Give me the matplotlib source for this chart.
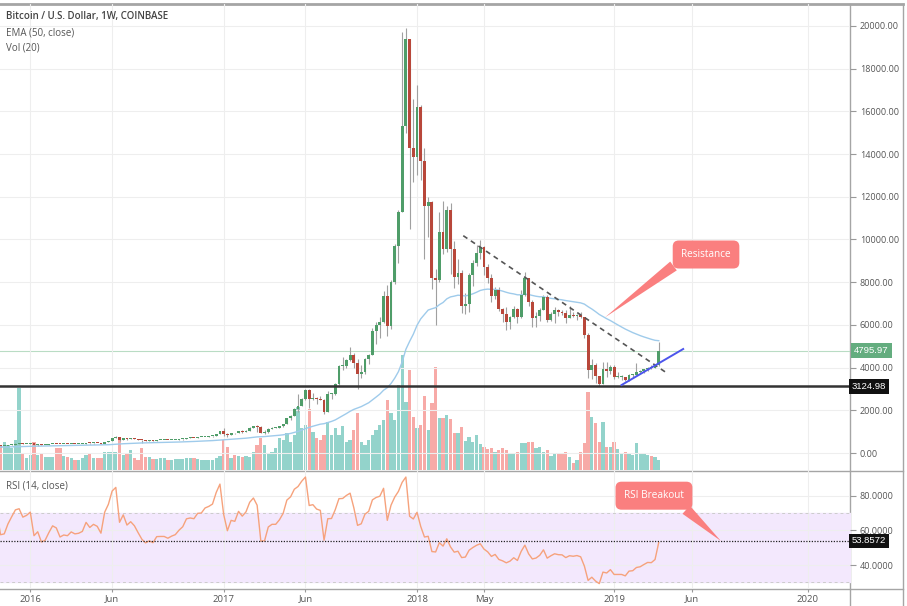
import numpy as np
import pandas as pd
import matplotlib
matplotlib.use("Agg")
import matplotlib.pyplot as plt
import matplotlib.dates as mdates
from matplotlib.lines import Line2D

plt.rcParams['font.family'] = ['Open Sans', 'DejaVu Sans']

W, H = 907, 606

# weekly BTC/USD candles (Coinbase), first bar = week of 2014-12-01
# (bars before Nov 2015 are off screen, they only feed the EMA / RSI)
first_week = "2014-12-01"
first_open = 370

close = [
    # 2014-12 .. 2015
    375, 350, 330, 317, 265, 275, 210, 253, 226, 223, 234, 235, 260, 275, 285, 268,
    242, 260, 236, 222, 219, 240, 240, 237, 240, 230,
    225, 233, 245, 250, 271, 311, 274, 292, 281, 265, 257, 228, 229, 240, 230, 231,
    233, 239, 247, 263, 285, 325, 372, 320, 323, 362, 396, 435, 442, 422, 431,
    # 2016
    448, 385, 402, 369, 376, 407, 438, 432, 405, 413, 411, 425, 420, 422, 428, 460, 449,
    460, 456, 442, 526, 575, 705, 760, 630, 700, 650, 680, 660, 625, 590, 570, 582, 573,
    608, 609, 609, 602, 612, 619, 640, 657, 700, 705, 703, 733, 735, 765, 775, 790, 890, 1015,
    # 2017
    905, 825, 920, 915, 1025, 1000, 1050, 1190, 1270, 1230, 960, 965, 1140, 1180, 1180,
    1245, 1350, 1650, 1750, 2050, 2190, 2550, 2960, 2550, 2590, 2520, 2500, 1930, 2750,
    2760, 3230, 4070, 4090, 4370, 4600, 4230, 3690, 3780, 4400, 4610, 5700, 5990, 6150,
    7370, 5950, 8000, 9700, 11300, 15300, 19400, 14300, 13850,
    # 2018
    16200, 13700, 11550, 11750, 8200, 8100, 10350, 9550, 11400, 9550, 8250, 8450, 6900,
    7000, 8350, 8900, 9350, 9650, 8700, 8200, 7350, 7650, 6750, 6500, 6150, 6350, 6750,
    6350, 7400, 8200, 7050, 6300, 6400, 6700, 7300, 6250, 6500, 6700, 6600, 6580, 6300,
    6450, 6400, 6450, 6350, 5550, 3900, 4100, 3600, 3250, 3950, 3850, 4050,
    # 2019
    3550, 3550, 3550, 3420, 3640, 3660, 3800, 3830, 3920, 4000, 3990, 4100, 4796,
]

high = [
    382, 378, 352, 335, 320, 290, 285, 260, 260, 240, 240, 246, 265, 300, 297, 290,
    270, 262, 262, 240, 230, 245, 246, 245, 245, 242,
    232, 236, 252, 251, 272, 313, 315, 300, 297, 285, 270, 262, 235, 242, 245, 235,
    236, 241, 248, 265, 290, 335, 500, 385, 340, 370, 400, 465, 470, 460, 437,
    460, 450, 425, 410, 385, 410, 445, 442, 440, 420, 418, 426, 428, 425, 432, 465, 468,
    465, 462, 458, 530, 585, 720, 780, 770, 705, 705, 690, 685, 665, 630, 600, 590, 590,
    612, 630, 612, 612, 614, 622, 642, 660, 720, 745, 720, 750, 745, 770, 780, 795, 900, 1020,
    1150, 920, 930, 925, 1030, 1070, 1060, 1195, 1280, 1330, 1260, 1080, 1150, 1200, 1210,
    1250, 1360, 1660, 1780, 2100, 2760, 2560, 2980, 2980, 2790, 2600, 2650, 2550, 2900,
    2800, 3280, 4100, 4480, 4380, 4980, 4700, 4380, 4100, 4450, 4630, 5850, 6150, 6350,
    7600, 7880, 8100, 9800, 11400, 19700, 19900, 19400, 16600,
    17250, 16300, 14300, 12000, 11800, 8600, 11300, 11800, 11550, 11700, 9950, 9100, 8550,
    7500, 8450, 9030, 9750, 9990, 9700, 8850, 8400, 7780, 7760, 6800, 6850, 6400, 6900,
    6800, 7650, 8500, 8200, 7150, 6600, 6800, 7400, 7410, 6600, 6840, 6750, 6700, 6680,
    6900, 6600, 6500, 6620, 6380, 5600, 4400, 4200, 3630, 4250, 4250, 4100,
    4130, 3800, 3650, 3580, 3700, 3700, 4200, 3880, 3950, 4040, 4110, 4150, 5200,
]

low = [
    360, 345, 310, 310, 262, 255, 170, 205, 220, 210, 218, 228, 232, 255, 270, 260,
    240, 235, 232, 218, 215, 215, 233, 232, 232, 227,
    222, 224, 232, 240, 250, 265, 270, 272, 278, 260, 255, 195, 205, 225, 228, 225,
    226, 232, 237, 245, 260, 282, 320, 290, 312, 318, 355, 390, 430, 415, 418,
    425, 360, 350, 365, 365, 370, 405, 415, 400, 400, 408, 405, 412, 415, 418, 428, 440,
    445, 448, 436, 440, 520, 570, 680, 560, 610, 630, 645, 650, 620, 480, 565, 560, 565,
    570, 605, 600, 595, 600, 608, 615, 630, 650, 680, 690, 695, 728, 730, 760, 770, 790, 880,
    800, 750, 820, 890, 915, 930, 990, 1050, 1180, 990, 940, 890, 960, 1120, 1160,
    1170, 1240, 1340, 1530, 1720, 1900, 2180, 2500, 2100, 2480, 2300, 2480, 1830, 1930,
    2550, 2700, 3200, 3900, 3990, 4300, 4000, 2980, 3500, 3700, 4150, 4580, 5100, 5400,
    6100, 5500, 5800, 7900, 8900, 11300, 15000, 10500, 12700,
    13000, 12800, 9100, 10100, 7700, 6000, 8000, 9300, 9400, 8400, 7750, 7900, 6550,
    6500, 6600, 7800, 8750, 9100, 8350, 7950, 7050, 7200, 6650, 6150, 5750, 5800, 6300,
    6080, 6300, 7370, 6900, 5880, 5880, 6170, 6700, 6120, 6170, 6100, 6400, 6450, 6100,
    6300, 6350, 6220, 6300, 5400, 3500, 3450, 3300, 3120, 3230, 3580, 3700,
    3450, 3500, 3440, 3390, 3350, 3580, 3650, 3750, 3770, 3840, 3950, 3980, 4080,
]

# weekly volume, thousand BTC
volume = [
    20, 20, 18, 18, 22, 25, 35, 25, 20, 18, 17, 16, 18, 20, 18, 16, 17, 15, 15, 14,
    14, 15, 14, 13, 13, 14,
    15, 14, 16, 14, 18, 22, 20, 16, 15, 14, 14, 25, 18, 14, 12, 12, 11, 11, 12, 14, 16, 20, 35,
    25, 28, 25, 22, 30, 82, 17, 12,
    # 2016
    15, 28, 15, 17, 13, 13, 13, 22, 22, 14, 13, 12, 10, 10, 12, 15, 17, 12, 12, 12, 18, 18,
    18, 18, 31, 15, 17, 20, 12, 10, 22, 13, 13, 11, 11, 12, 12, 10, 10, 11, 11, 11, 12, 12,
    12, 11, 10, 10, 10, 10, 12, 14,
    # 2017
    30, 23, 12, 15, 14, 13, 14, 13, 18, 25, 32, 25, 17, 18, 22, 32, 30, 37, 28, 35, 63, 42,
    45, 61, 38, 32, 30, 35, 48, 35, 42, 35, 44, 28, 30, 40, 57, 28, 25, 30, 35, 40, 45, 50,
    70, 57, 50, 85, 115, 68, 100, 53,
    # 2018
    42, 45, 74, 40, 67, 103, 52, 52, 55, 51, 37, 37, 43, 29, 33, 28, 35, 26, 23, 21, 22, 18,
    20, 22, 20, 16, 16, 18, 27, 27, 28, 28, 22, 23, 18, 20, 14, 16, 17, 17, 18, 13, 7, 10,
    18, 27, 78, 53, 47, 28, 48, 23, 23,
    # 2019
    28, 21, 17, 18, 16, 15, 27, 17, 16, 15, 14, 13, 10,
]

last_price = 4795.97
support_level = 3124.98
rsi_mark = 53.8572

tick_weeks = ["2016-01-04", "2016-06-06", "2017-01-02", "2017-06-05", "2018-01-01",
              "2018-05-07", "2019-01-07", "2019-06-03", "2020-01-06"]
tick_labels = ["2016", "Jun", "2017", "Jun", "2018", "May", "2019", "Jun", "2020"]
price_ticks = [0, 2000, 4000, 6000, 8000, 10000, 12000, 14000, 16000, 18000, 20000]
rsi_ticks = [40, 60, 80]

weeks = pd.date_range(first_week, periods=len(close), freq="W-MON")
x = mdates.date2num(weeks)
c = np.array(close, dtype=float)
o = np.array([first_open] + close[:-1], dtype=float)
up = c >= o

s = pd.Series(c)
ema50 = s.ewm(span=50, adjust=False).mean()
d = s.diff()
gain = d.clip(lower=0).ewm(alpha=1 / 14, adjust=False).mean()
loss = (-d.clip(upper=0)).ewm(alpha=1 / 14, adjust=False).mean()
rsi = 100 - 100 / (1 + gain / loss)


def px_rect(x0, y0, x1, y1):
    return [x0 / W, 1 - y1 / H, (x1 - x0) / W, (y1 - y0) / H]


fig = plt.figure(figsize=(W / 100, H / 100), dpi=100)
axv = fig.add_axes(px_rect(0, 4, 850, 470))
ax = fig.add_axes(px_rect(0, 4, 850, 470), sharex=axv)
ax2 = fig.add_axes(px_rect(0, 471, 850, 589), sharex=axv)
ax.patch.set_visible(False)
ax2.patch.set_visible(False)

xlim = mdates.datestr2num(["2015-11-08", "2020-03-26"])
axv.set_xlim(xlim)

# volume
teal, salmon = "#93d3cb", "#f7aaa7"
axv.bar(x, volume, width=6.2, color=np.where(up, teal, salmon), linewidth=0)
axv.set_ylim(0, max(volume) * 4.05)
axv.axis("off")

# candles
green, red = "#4f9d69", "#b8473a"
ax.vlines(x, low, high, color="#a0a0a0", lw=0.8, zorder=3)
body = np.maximum(np.abs(c - o), 45)
ax.bar(x, body, bottom=np.minimum(o, c), width=5.4,
       color=np.where(up, green, red), linewidth=0, zorder=4)
ax.plot(x, ema50, color="#9fcbeb", lw=1.0, zorder=3)

ax.axhline(last_price, color="#b9dcc4", lw=0.8, zorder=1)
ax.axhline(support_level, color="#333333", lw=1.8, zorder=5)

# drawn trend lines
ax.plot(mdates.datestr2num(["2018-03-29", "2019-04-19"]), [10178, 3700],
        color="#555555", lw=1.2, ls=(0, (3, 2.5)), zorder=5)
ax.plot(mdates.datestr2num(["2019-01-21", "2019-05-17"]), [3185, 4871],
        color="#4c55ec", lw=1.4, zorder=5)

ax.set_ylim(-796, 21030)
ax.set_yticks(price_ticks)
ax.set_yticklabels([f"{v:.2f}" for v in price_ticks])
ax.yaxis.tick_right()
ax.tick_params(axis="y", length=4, width=0.8, color="#999999", labelsize=6.5,
               labelcolor="#555555", pad=3)
ax.tick_params(axis="x", length=0, labelbottom=False)
ax.grid(True, color="#eeeeee", lw=0.8, zorder=0)
for sp in ax.spines.values():
    sp.set_visible(False)

callout = "#fa7f7f"
ax.annotate("Resistance", xy=(mdates.datestr2num("2018-12-21"), 6356),
            xytext=(mdates.datestr2num("2019-06-29"), 9297),
            ha="center", va="center", fontsize=7.2, color="white", zorder=10,
            bbox=dict(boxstyle="round,pad=0.85,rounding_size=0.6", fc=callout, ec="none"),
            arrowprops=dict(arrowstyle="wedge,tail_width=1.1,shrink_factor=0.5",
                            fc=callout, ec="none", relpos=(0.04, 0.12),
                            shrinkA=0, shrinkB=0))

tag = dict(transform=ax.get_yaxis_transform(), ha="left", va="center", fontsize=6.8,
           color="white", clip_on=False, zorder=10, family="Liberation Sans")
ax.text(1.005, last_price, f"{last_price:.2f}",
        bbox=dict(boxstyle="square,pad=0.3", fc="#64ad7f", ec="none"), **tag)
ax.text(1.002, support_level, f"{support_level:.2f}",
        bbox=dict(boxstyle="square,pad=0.3", fc="#111111", ec="none"), **tag)

# RSI pane
ax2.fill_between(xlim, 30, 70, color="#f3e8fd", zorder=0)
ax2.axhline(70, color="#cccccc", lw=0.7, ls=(0, (3, 3)))
ax2.axhline(30, color="#cccccc", lw=0.7, ls=(0, (3, 3)))
ax2.plot(x, rsi, color="#f6a27c", lw=1.0, zorder=3)
ax2.axhline(rsi_mark, color="#222222", lw=0.9, ls=(0, (1, 1.2)), zorder=4)
ax2.set_ylim(26.15, 94.25)
ax2.set_yticks(rsi_ticks)
ax2.set_yticklabels([f"{v:.4f}" for v in rsi_ticks])
ax2.yaxis.tick_right()
ax2.tick_params(axis="y", length=4, width=0.8, color="#999999", labelsize=6.5,
                labelcolor="#555555", pad=3)
ax2.set_xticks(mdates.datestr2num(tick_weeks))
ax2.set_xticklabels(tick_labels)
ax2.tick_params(axis="x", length=2.5, width=0.8, color="#999999", labelsize=6.8,
                labelcolor="#555555", pad=1.5)
ax2.grid(True, color="#eeeeee", lw=0.8, zorder=0)
for sp in ax2.spines.values():
    sp.set_visible(False)
ax2.text(1.002, rsi_mark, f"{rsi_mark:.4f}", transform=ax2.get_yaxis_transform(),
         ha="left", va="center", fontsize=6.8, color="white", clip_on=False, zorder=10,
         family="Liberation Sans",
         bbox=dict(boxstyle="square,pad=0.3", fc="#111111", ec="none"))
ax2.annotate("RSI Breakout", xy=(mdates.datestr2num("2019-07-27"), rsi_mark),
             xytext=(mdates.datestr2num("2019-03-23"), 80.0),
             ha="center", va="center", fontsize=7.2, color="white", zorder=10,
             bbox=dict(boxstyle="round,pad=0.85,rounding_size=0.6", fc=callout, ec="none"),
             arrowprops=dict(arrowstyle="wedge,tail_width=1.1,shrink_factor=0.5",
                             fc=callout, ec="none", relpos=(0.88, 0.0),
                             shrinkA=0, shrinkB=0))

# legends
fig.text(6 / W, 1 - 17 / H, "Bitcoin / U.S. Dollar, 1W, COINBASE", fontsize=7,
         fontweight="semibold", color="#444444", va="center")
fig.text(6 / W, 1 - 33 / H, "EMA (50, close)", fontsize=7, color="#555555", va="center")
fig.text(6 / W, 1 - 48 / H, "Vol (20)", fontsize=7, color="#555555", va="center")
fig.text(6 / W, 1 - 486 / H, "RSI (14, close)", fontsize=7, color="#555555", va="center")

# frame lines, drawn underneath the panes
frame = "#a5a5a5"
for (x0, y0, x1, y1, lw) in [(0, 3.5, 903, 3.5, 2.0), (850, 4, 850, 606, 1.0),
                             (903, 4, 903, 606, 1.0), (0, 470.5, 903, 470.5, 1.0),
                             (0, 589, 903, 589, 1.0)]:
    fig.add_artist(Line2D([x0 / W, x1 / W], [1 - y0 / H, 1 - y1 / H],
                          color=frame, lw=lw, transform=fig.transFigure, zorder=-1))

fig.savefig("out.png", dpi=100)
